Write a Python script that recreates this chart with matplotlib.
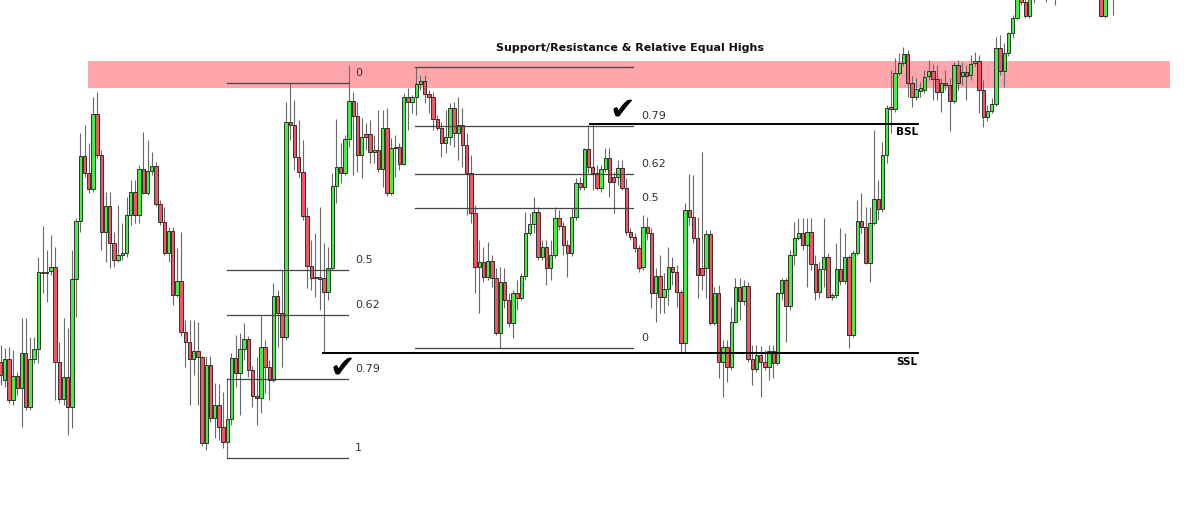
import matplotlib.pyplot as plt

# candle prices (arbitrary units), one entry per bar
opens = [
    138, 120, 141, 100, 124, 112, 147, 93, 141, 151,
    228, 227, 229, 233, 138, 101, 123, 93, 221, 279,
    344, 327, 311, 386, 345, 268, 294, 257, 240, 245,
    247, 285, 308, 285, 331, 307, 329, 334, 296, 278,
    247, 269, 205, 219, 168, 158, 141, 149, 143, 57,
    135, 82, 95, 73, 58, 81, 142, 127, 151, 161,
    130, 104, 102, 153, 133, 120, 204, 187, 163, 378,
    375, 343, 328, 284, 234, 222, 223, 222, 208, 232,
    314, 333, 327, 361, 399, 384, 345, 366, 366, 348,
    350, 331, 372, 307, 353, 353, 336, 403, 398, 403,
    416, 419, 406, 403, 381, 372, 357, 363, 392, 367,
    375, 355, 327, 287, 233, 238, 223, 239, 222, 167,
    218, 200, 177, 207, 202, 224, 267, 276, 288, 243,
    253, 232, 245, 282, 274, 255, 247, 283, 317, 313,
    351, 333, 327, 312, 331, 342, 323, 323, 332, 312,
    268, 263, 252, 233, 273, 267, 207, 224, 203, 211,
    233, 228, 208, 157, 290, 283, 262, 232, 232, 266,
    177, 207, 138, 153, 133, 178, 213, 199, 214, 141,
    131, 145, 138, 133, 149, 137, 207, 220, 194, 245,
    262, 267, 255, 268, 236, 208, 231, 243, 203, 205,
    231, 219, 243, 165, 247, 279, 273, 237, 277, 301,
    291, 345, 393, 391, 427, 437, 446, 417, 403, 409,
    410, 424, 429, 421, 408, 417, 415, 399, 435, 424,
    428, 425, 437, 439, 410, 383, 389, 396, 452, 429,
    447, 467, 482, 508, 498, 484, 505, 512, 520, 530,
    515, 525, 510, 522, 535, 528, 538, 542, 530, 535,
    525, 520, 510, 484, 508, 503,
]
highs = [
    155, 152, 153, 150, 128, 182, 182, 163, 163, 243,
    274, 250, 265, 253, 158, 182, 172, 250, 282, 367,
    375, 357, 403, 408, 350, 308, 308, 268, 295, 277,
    303, 320, 320, 335, 368, 360, 348, 338, 300, 293,
    273, 273, 252, 268, 180, 180, 180, 178, 144, 144,
    144, 117, 116, 108, 122, 147, 165, 167, 177, 164,
    134, 143, 184, 160, 140, 217, 210, 230, 398, 417,
    400, 380, 360, 293, 260, 267, 293, 257, 253, 327,
    381, 357, 365, 435, 408, 398, 382, 377, 380, 365,
    390, 390, 392, 362, 365, 357, 407, 412, 405, 433,
    425, 425, 410, 408, 385, 378, 390, 397, 398, 403,
    392, 367, 345, 295, 260, 253, 258, 245, 232, 233,
    232, 207, 210, 220, 227, 288, 287, 303, 293, 260,
    260, 260, 293, 290, 278, 260, 292, 322, 323, 352,
    375, 377, 335, 335, 352, 352, 328, 340, 340, 322,
    272, 267, 255, 285, 283, 272, 232, 245, 227, 253,
    243, 235, 210, 297, 326, 325, 283, 348, 270, 270,
    213, 215, 160, 160, 193, 222, 222, 220, 218, 155,
    155, 154, 150, 155, 155, 208, 222, 222, 250, 278,
    282, 282, 282, 282, 245, 238, 282, 247, 207, 257,
    272, 267, 245, 250, 300, 307, 293, 293, 370, 320,
    358, 395, 430, 442, 447, 453, 450, 424, 422, 418,
    430, 440, 436, 435, 422, 430, 422, 438, 440, 438,
    435, 445, 448, 445, 420, 395, 402, 463, 465, 457,
    468, 485, 515, 520, 510, 515, 525, 530, 538, 540,
    532, 535, 530, 540, 545, 540, 550, 550, 542, 545,
    540, 530, 520, 520, 525, 525,
]
lows = [
    115, 113, 97, 95, 105, 73, 90, 90, 137, 137,
    207, 198, 225, 100, 97, 95, 65, 72, 183, 268,
    323, 307, 308, 342, 250, 238, 232, 233, 238, 240,
    243, 275, 277, 277, 306, 305, 325, 294, 275, 245,
    238, 195, 203, 164, 133, 95, 125, 95, 54, 50,
    78, 62, 60, 52, 42, 75, 113, 85, 140, 123,
    93, 75, 87, 107, 100, 118, 153, 133, 160, 360,
    330, 323, 280, 212, 210, 203, 190, 147, 200, 230,
    297, 317, 325, 353, 325, 328, 322, 350, 337, 337,
    328, 313, 304, 305, 323, 330, 335, 370, 387, 385,
    410, 397, 387, 370, 370, 343, 347, 355, 353, 340,
    333, 285, 277, 207, 187, 218, 220, 213, 165, 152,
    192, 173, 162, 190, 200, 220, 265, 267, 240, 240,
    215, 220, 242, 270, 245, 223, 244, 280, 310, 310,
    327, 310, 310, 308, 328, 303, 287, 315, 310, 265,
    260, 248, 228, 230, 260, 192, 178, 187, 187, 195,
    215, 193, 147, 147, 275, 257, 202, 210, 202, 175,
    175, 122, 103, 118, 130, 177, 180, 195, 138, 115,
    128, 103, 130, 120, 122, 135, 200, 158, 190, 235,
    260, 250, 213, 230, 200, 202, 213, 202, 200, 202,
    215, 216, 152, 163, 245, 267, 236, 218, 275, 280,
    288, 337, 367, 388, 425, 434, 403, 393, 400, 403,
    407, 420, 400, 400, 388, 410, 369, 397, 410, 415,
    400, 420, 434, 387, 373, 379, 387, 394, 425, 413,
    444, 462, 480, 495, 482, 482, 497, 504, 510, 498,
    506, 495, 505, 515, 525, 520, 530, 525, 518, 522,
    515, 512, 483, 482, 501, 485,
]
closes = [
    125, 141, 100, 124, 112, 147, 93, 141, 151, 228,
    227, 228, 233, 138, 101, 123, 93, 221, 279, 344,
    327, 311, 386, 345, 268, 294, 257, 240, 245, 247,
    285, 308, 285, 331, 307, 329, 334, 296, 278, 247,
    269, 205, 219, 168, 158, 141, 149, 143, 57, 135,
    82, 95, 73, 58, 81, 142, 127, 151, 161, 130,
    104, 102, 153, 133, 120, 204, 187, 163, 378, 375,
    343, 328, 284, 234, 222, 223, 221, 208, 232, 314,
    333, 327, 361, 399, 384, 345, 363, 363, 348, 350,
    331, 372, 307, 352, 352, 336, 403, 398, 403, 416,
    419, 406, 403, 381, 372, 357, 363, 392, 367, 375,
    355, 327, 287, 233, 238, 223, 239, 222, 167, 218,
    200, 177, 207, 202, 224, 267, 276, 288, 243, 253,
    232, 245, 282, 274, 255, 247, 283, 317, 313, 351,
    333, 327, 312, 331, 342, 318, 318, 332, 312, 268,
    263, 252, 232, 273, 267, 207, 224, 203, 211, 233,
    228, 208, 157, 290, 283, 262, 225, 225, 266, 177,
    207, 138, 153, 133, 178, 213, 199, 214, 141, 131,
    145, 138, 133, 149, 137, 207, 220, 194, 245, 262,
    267, 255, 268, 236, 208, 231, 243, 203, 205, 231,
    219, 243, 165, 247, 279, 273, 237, 277, 301, 291,
    345, 392, 391, 427, 437, 446, 417, 403, 411, 412,
    423, 429, 421, 408, 417, 415, 399, 435, 417, 428,
    424, 436, 439, 410, 383, 389, 396, 452, 429, 447,
    467, 482, 505, 498, 484, 505, 512, 520, 530, 515,
    525, 510, 522, 535, 528, 538, 542, 530, 535, 525,
    520, 510, 484, 508, 503, 515,
]

# drawn levels
zone_low, zone_high = 412, 439
fib_left_high, fib_left_low = 417.3, 42.3
fib_left_ratios = [0, 0.5, 0.62, 0.79, 1]
fib_right_low, fib_right_high = 151.7, 432.7
fib_right_ratios = [0, 0.5, 0.62, 0.79]
bsl_level, ssl_level = 376.5, 147

green = "#45ee45"
red = "#f25561"

fig = plt.figure(figsize=(12, 5.05), dpi=100)
ax = fig.add_axes([0, 0, 1, 1])
ax.set_xlim(-0.12, 285.6)
ax.set_ylim(-5, 500)
ax.axis("off")

# support / resistance zone
ax.axhspan(zone_low, zone_high, xmin=(20.8 + 0.12) / 285.72, xmax=(278.5 + 0.12) / 285.72,
           color="#ffa6ad", zorder=1, lw=0)

idx = list(range(len(opens)))
ax.vlines(idx, lows, highs, color="#6a6a6a", lw=0.8, zorder=2)
colors = [green if c >= o else red for o, c in zip(opens, closes)]
heights = [c - o if c != o else 0.8 for o, c in zip(opens, closes)]
ax.bar(idx, heights, bottom=opens, width=0.8, color=colors,
       edgecolor="#1c1c1c", linewidth=0.6, zorder=3)

# left fibonacci
for r in fib_left_ratios:
    lvl = fib_left_high - r * (fib_left_high - fib_left_low)
    ax.plot([53.9, 82.7], [lvl, lvl], color="#444444", lw=0.9, zorder=4)
    ax.text(84.4, lvl + 10, f"{r:g}", fontsize=8, color="#333333",
            va="center", ha="left")

# right fibonacci
ax.plot([98.7, 150.6], [fib_right_high, fib_right_high], color="#444444", lw=0.9, zorder=4)
for r in fib_right_ratios:
    lvl = fib_right_low + r * (fib_right_high - fib_right_low)
    ax.plot([98.7, 150.6], [lvl, lvl], color="#444444", lw=0.9, zorder=4)
    ax.text(152.5, lvl + 10, f"{r:g}", fontsize=8, color="#333333",
            va="center", ha="left")

# liquidity lines
ax.plot([140.4, 218.5], [bsl_level, bsl_level], color="black", lw=1.4, zorder=5)
ax.plot([76.8, 218.5], [ssl_level, ssl_level], color="black", lw=1.4, zorder=5)
ax.text(213.2, bsl_level - 8.5, "BSL", fontsize=7.5, fontweight="bold", va="center")
ax.text(213.2, ssl_level - 9, "SSL", fontsize=7.5, fontweight="bold", va="center")

ax.text(81.3, 132, "\u2714", fontsize=22, ha="center", va="center", color="black")
ax.text(148, 390, "\u2714", fontsize=22, ha="center", va="center", color="black")

ax.text(149.9, 452, "Support/Resistance & Relative Equal Highs", fontsize=8,
        fontweight="bold", ha="center", va="center", color="#111111")

fig.savefig("out.png", dpi=100)
